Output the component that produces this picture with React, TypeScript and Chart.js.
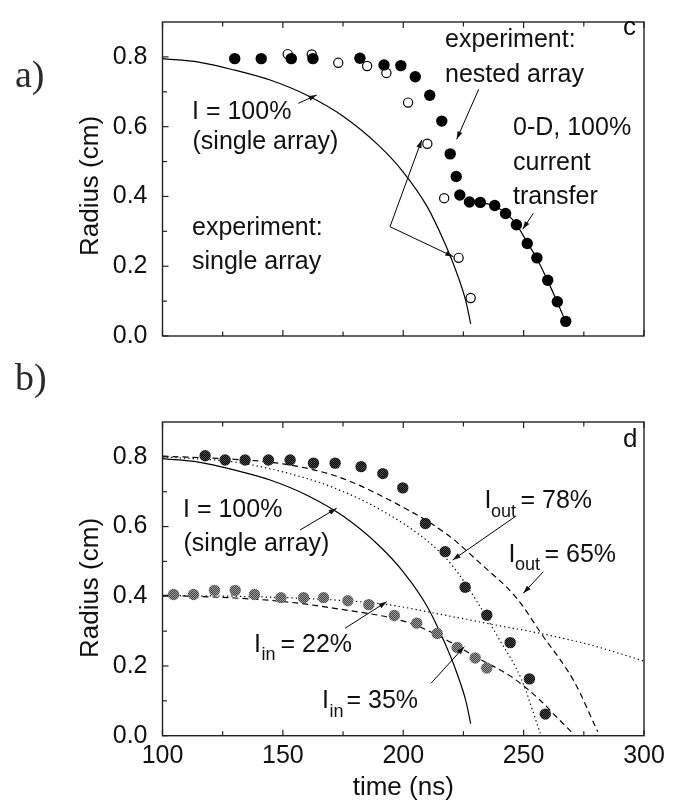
import React, { useEffect, useRef } from "react";
import { Chart, registerables } from "chart.js";
Chart.register(...registerables);

// ---------------- data ----------------
const xTickValues = [100, 150, 200, 250, 300];
const xMinorTickValues = [125, 175, 225, 275];
const yTickValues = [0, 0.2, 0.4, 0.6, 0.8];
const yMinorTickValues = [0.1, 0.3, 0.5, 0.7];

// panel a / c
const singleArrayT = [152, 162, 173, 185, 193, 202, 210, 217, 223, 228];
const singleArrayR = [0.808, 0.807, 0.783, 0.774, 0.754, 0.669, 0.551, 0.395, 0.224, 0.109];
const nestedArrayT = [130, 141, 153.5, 162.5, 182, 192, 199, 205, 211, 216, 219.5, 222, 223.5, 227.5, 232, 238, 242.5, 247, 251.5, 255.5, 260, 264, 267.5];
const nestedArrayR = [0.795, 0.795, 0.795, 0.795, 0.796, 0.777, 0.775, 0.743, 0.69, 0.616, 0.522, 0.457, 0.404, 0.384, 0.383, 0.374, 0.351, 0.319, 0.265, 0.224, 0.16, 0.098, 0.042];
const singleModelT = [100, 115, 130, 145, 160, 175, 190, 200, 210, 217, 222, 226, 228];
const singleModelR = [0.795, 0.785, 0.762, 0.733, 0.69, 0.63, 0.545, 0.47, 0.37, 0.27, 0.185, 0.1, 0.035];
const transferModelT = [232, 238, 243, 247, 251.5, 255.5, 260, 264, 267.5];
const transferModelR = [0.383, 0.372, 0.35, 0.32, 0.268, 0.222, 0.158, 0.097, 0.04];

// panel b / d
const outerT = [117.7, 126, 134.3, 144, 153, 162.7, 171.7, 182.5, 191.5, 199.8, 209.2, 217.4, 225.7, 234.7, 244.4, 252.4, 259];
const outerR = [0.803, 0.791, 0.791, 0.791, 0.791, 0.782, 0.782, 0.772, 0.752, 0.711, 0.609, 0.528, 0.426, 0.346, 0.267, 0.163, 0.062];
const innerT = [104.6, 112.9, 121.6, 130.2, 138.2, 149.2, 158.6, 166.9, 177, 185.7, 196.3, 205.6, 214.1, 222.4, 229.9, 234.7];
const innerR = [0.405, 0.405, 0.417, 0.417, 0.405, 0.396, 0.396, 0.396, 0.387, 0.376, 0.345, 0.323, 0.293, 0.253, 0.223, 0.194];
const out65T = [100, 130, 150, 172, 190.6, 218.1, 231.9, 247.2, 257.3, 271.1, 280.8];
const out65R = [0.802, 0.793, 0.78, 0.745, 0.689, 0.578, 0.495, 0.394, 0.293, 0.154, 0.011];
const out78T = [100, 130, 150, 170.9, 190.6, 211.4, 220.6, 230.6, 239.3, 249, 256.9];
const out78R = [0.8, 0.785, 0.757, 0.712, 0.648, 0.551, 0.486, 0.385, 0.283, 0.163, 0.007];
const in35T = [100, 130, 150, 170.9, 201.9, 215.7, 229.6, 246.2, 257.3, 263.5, 270.4];
const in35R = [0.403, 0.395, 0.385, 0.366, 0.325, 0.283, 0.228, 0.163, 0.099, 0.055, 0.007];
const in22T = [100, 130, 170, 193.6, 215.7, 236.5, 257.3, 278, 300];
const in22R = [0.402, 0.4, 0.39, 0.376, 0.348, 0.32, 0.293, 0.26, 0.214];

// ---------------- helpers ----------------
const SANS = "'Liberation Sans', Arial, Helvetica, sans-serif";
const SERIF = "'Liberation Serif', 'Times New Roman', serif";
const INK = "#111";

const pts = (t: number[], r: number[]) => t.map((x, i) => ({ x, y: r[i] }));

function lineDs(t: number[], r: number[], dash: number[]) {
  return {
    data: pts(t, r),
    showLine: true,
    pointRadius: 0,
    borderColor: "#000",
    borderWidth: 1.2,
    borderDash: dash,
    cubicInterpolationMode: "monotone",
    fill: false,
  };
}

function text(ctx: CanvasRenderingContext2D, s: string, x: number, y: number, size = 25, font = SANS) {
  ctx.font = `${size}px ${font}`;
  ctx.textAlign = "left";
  ctx.textBaseline = "alphabetic";
  ctx.fillText(s, x, y);
}

function arrow(ctx: CanvasRenderingContext2D, x1: number, y1: number, x2: number, y2: number) {
  ctx.beginPath();
  ctx.moveTo(x1, y1);
  ctx.lineTo(x2, y2);
  ctx.stroke();
  const a = Math.atan2(y2 - y1, x2 - x1);
  const L = 8, W = 2.6;
  ctx.beginPath();
  ctx.moveTo(x2, y2);
  ctx.lineTo(x2 - L * Math.cos(a) + W * Math.sin(a), y2 - L * Math.sin(a) - W * Math.cos(a));
  ctx.lineTo(x2 - L * Math.cos(a) - W * Math.sin(a), y2 - L * Math.sin(a) + W * Math.cos(a));
  ctx.closePath();
  ctx.fill();
}

function framePlugin(yTitleY: number, drawExtra: (ctx: CanvasRenderingContext2D, chart: any) => void) {
  return {
    id: "frame",
    afterDraw(chart: any) {
      const ctx: CanvasRenderingContext2D = chart.ctx;
      const { left, right, top, bottom } = chart.chartArea;
      const xs = chart.scales.x;
      const ys = chart.scales.y;
      ctx.save();
      ctx.strokeStyle = "#222";
      ctx.fillStyle = INK;
      ctx.lineWidth = 1.4;
      ctx.setLineDash([]);
      ctx.strokeRect(left, top, right - left, bottom - top);
      ctx.lineWidth = 1.2;
      const tick = (v: number, len: number) => {
        const px = xs.getPixelForValue(v);
        ctx.beginPath();
        ctx.moveTo(px, bottom);
        ctx.lineTo(px, bottom - len);
        ctx.moveTo(px, top);
        ctx.lineTo(px, top + len);
        ctx.stroke();
      };
      xTickValues.forEach((v) => tick(v, 6));
      xMinorTickValues.forEach((v) => tick(v, 4.5));
      const ytick = (v: number, len: number) => {
        const py = ys.getPixelForValue(v);
        ctx.beginPath();
        ctx.moveTo(left, py);
        ctx.lineTo(left + len, py);
        ctx.stroke();
      };
      yTickValues.forEach((v) => ytick(v, 6));
      yMinorTickValues.forEach((v) => ytick(v, 4.5));
      // y title
      ctx.save();
      ctx.translate(98, yTitleY);
      ctx.rotate(-Math.PI / 2);
      ctx.font = `26px ${SANS}`;
      ctx.textAlign = "center";
      ctx.textBaseline = "alphabetic";
      ctx.fillText("Radius (cm)", 0, 0);
      ctx.restore();
      ctx.lineWidth = 1;
      ctx.strokeStyle = "#000";
      ctx.fillStyle = INK;
      drawExtra(ctx, chart);
      ctx.restore();
    },
  };
}

function baseOptions(padTop: number, xHeight: number, showX: boolean) {
  return {
    responsive: false,
    animation: false,
    events: [],
    layout: { padding: { top: padTop, right: 38, left: 0, bottom: 0 } },
    plugins: { legend: { display: false }, tooltip: { enabled: false } },
    scales: {
      x: {
        type: "linear",
        min: 100,
        max: 300,
        grid: { display: false },
        border: { display: false },
        afterFit: (s: any) => {
          s.height = xHeight;
        },
        afterBuildTicks: (s: any) => {
          s.ticks = xTickValues.map((v) => ({ value: v }));
        },
        ticks: {
          display: showX,
          autoSkip: false,
          maxRotation: 0,
          padding: -3,
          color: INK,
          font: { family: SANS, size: 25 },
          callback: (v: any) => String(v),
        },
      },
      y: {
        type: "linear",
        min: 0,
        max: 0.9,
        grid: { display: false },
        border: { display: false },
        afterFit: (s: any) => {
          s.width = 162.5;
        },
        afterBuildTicks: (s: any) => {
          s.ticks = yTickValues.map((v) => ({ value: v }));
        },
        ticks: {
          padding: 7,
          color: INK,
          font: { family: SANS, size: 25 },
          callback: (v: any) => Number(v).toFixed(1),
        },
      },
    },
  };
}

function stipple(ctx: CanvasRenderingContext2D, a: string, b: string) {
  const c = document.createElement("canvas");
  c.width = 2;
  c.height = 2;
  const g = c.getContext("2d")!;
  g.fillStyle = a;
  g.fillRect(0, 0, 2, 2);
  g.fillStyle = b;
  g.fillRect(0, 0, 1, 1);
  g.fillRect(1, 1, 1, 1);
  return ctx.createPattern(c, "repeat");
}

function TopPanel() {
  const ref = useRef<HTMLCanvasElement>(null);
  useEffect(() => {
    const canvas = ref.current!;
    const extra = (ctx: CanvasRenderingContext2D) => {
      ctx.fillStyle = "#2a2a2a";
      text(ctx, "a)", 15, 87, 38, SERIF);
      text(ctx, "b)", 15, 390, 38, SERIF);
      ctx.fillStyle = INK;
      text(ctx, "c", 623, 35, 26);
      text(ctx, "experiment:", 445, 47);
      text(ctx, "nested array", 445, 81.5);
      arrow(ctx, 478.7, 89.3, 456.7, 139.3);
      text(ctx, "0-D, 100%", 513, 135);
      text(ctx, "current", 513, 170);
      text(ctx, "transfer", 513, 204);
      arrow(ctx, 533.3, 213.3, 522.7, 229.3);
      text(ctx, "I = 100%", 192, 119.3);
      text(ctx, "(single array)", 192.5, 148.5);
      arrow(ctx, 298.3, 103.3, 316.7, 95);
      text(ctx, "experiment:", 192, 235);
      text(ctx, "single array", 192, 269);
      arrow(ctx, 390, 226.7, 421.7, 140);
      arrow(ctx, 390, 226.7, 453.3, 256.7);
    };
    const chart = new Chart(canvas, {
      type: "scatter",
      data: {
        datasets: [
          {
            data: pts(nestedArrayT, nestedArrayR),
            pointRadius: 5.7,
            pointBackgroundColor: "#000",
            pointBorderWidth: 0,
            showLine: false,
          },
          {
            data: pts(singleArrayT, singleArrayR),
            pointRadius: 4.6,
            pointBackgroundColor: "#fff",
            pointBorderColor: "#000",
            pointBorderWidth: 1.2,
            showLine: false,
          },
          lineDs(singleModelT, singleModelR, []),
          lineDs(transferModelT, transferModelR, []),
        ] as any,
      },
      options: baseOptions(10, 64, false) as any,
      plugins: [framePlugin(186, extra)],
    });
    return () => chart.destroy();
  }, []);
  return <canvas ref={ref} width={682} height={400} style={{ display: "block", width: 682, height: 400 }} />;
}

function BottomPanel() {
  const ref = useRef<HTMLCanvasElement>(null);
  useEffect(() => {
    const canvas = ref.current!;
    const ctx2 = canvas.getContext("2d")!;
    const darkDot = stipple(ctx2, "#000", "#4a4a4a");
    const grayDot = stipple(ctx2, "#444", "#9c9c9c");
    const sub = (ctx: CanvasRenderingContext2D, xI: number, base: number, s: string, xS: number, rest: string, xR: number) => {
      text(ctx, "I", xI, base);
      text(ctx, s, xS, base + 8.4, 18);
      text(ctx, rest, xR, base);
    };
    const extra = (ctx: CanvasRenderingContext2D, chart: any) => {
      const { left, right } = chart.chartArea;
      ctx.font = `26px ${SANS}`;
      ctx.textAlign = "center";
      ctx.textBaseline = "alphabetic";
      ctx.fillText("time (ns)", (left + right) / 2, 395);
      text(ctx, "d", 623, 47, 26);
      text(ctx, "I = 100%", 183, 116.7);
      text(ctx, "(single array)", 183.5, 151);
      arrow(ctx, 300, 130, 336.7, 108.3);
      sub(ctx, 254, 251.7, "in", 261.5, "= 22%", 280.5);
      arrow(ctx, 345, 228.3, 386.7, 201.7);
      sub(ctx, 322, 308.3, "in", 329.5, "= 35%", 346.5);
      arrow(ctx, 431, 283.3, 464.3, 246.7);
      sub(ctx, 484.5, 108.3, "out", 491, "= 78%", 520.5);
      arrow(ctx, 515, 116.7, 452.7, 160);
      sub(ctx, 508.5, 161.7, "out", 515, "= 65%", 544.5);
      arrow(ctx, 543.3, 171.7, 523.3, 193.3);
    };
    const chart = new Chart(canvas, {
      type: "scatter",
      data: {
        datasets: [
          {
            data: pts(outerT, outerR),
            pointRadius: 5.7,
            pointBackgroundColor: darkDot,
            pointBorderWidth: 0,
            showLine: false,
          },
          {
            data: pts(innerT, innerR),
            pointRadius: 5.7,
            pointBackgroundColor: grayDot,
            pointBorderWidth: 0,
            showLine: false,
          },
          lineDs(singleModelT, singleModelR, []),
          lineDs(out65T, out65R, [6, 4]),
          lineDs(out78T, out78R, [1.3, 3]),
          lineDs(in35T, in35R, [6, 4]),
          lineDs(in22T, in22R, [1.3, 3]),
        ] as any,
      },
      options: baseOptions(9.5, 70.3, true) as any,
      plugins: [framePlugin(188, extra)],
    });
    return () => chart.destroy();
  }, []);
  return <canvas ref={ref} width={682} height={406} style={{ display: "block", width: 682, height: 406 }} />;
}

export default function App() {
  return (
    <div style={{ position: "absolute", left: 0, top: 0, width: 682, height: 806, background: "#fff" }}>
      <TopPanel />
      <BottomPanel />
    </div>
  );
}
